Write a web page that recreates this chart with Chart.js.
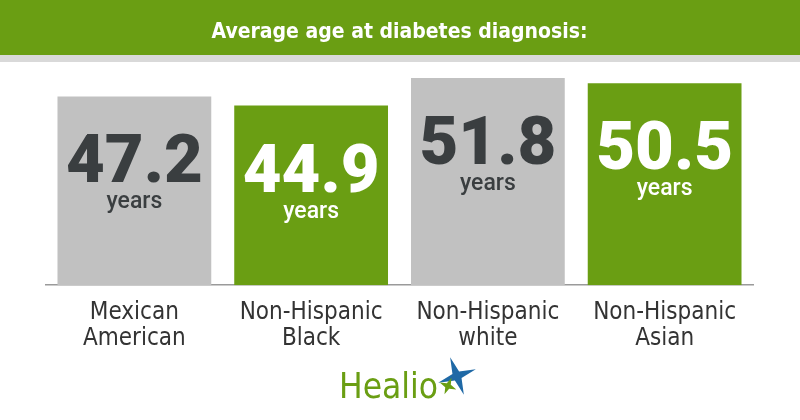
<!DOCTYPE html>
<html>
<head>
<meta charset="utf-8">
<title>Average age at diabetes diagnosis</title>
<script src="https://cdn.jsdelivr.net/npm/chart.js@4.4.1/dist/chart.umd.min.js"></script>
<style>
  html, body { margin: 0; padding: 0; background: #fff; }
  #wrap { width: 800px; height: 420px; position: relative; }
</style>
</head>
<body>
<div id="wrap"><canvas id="ageChart"></canvas></div>
<script>
// data
var groups = [['Mexican', 'American'], ['Non-Hispanic', 'Black'], ['Non-Hispanic', 'white'], ['Non-Hispanic', 'Asian']];
var avgAge = [47.2, 44.9, 51.8, 50.5];
var unitLabel = 'years';
var chartTitle = 'Average age at diabetes diagnosis:';

var green = '#6a9e13';
var grey = '#c1c1c1';
var darkText = '#3a3e40';
var narrow = "'Liberation Sans Narrow', 'DejaVu Sans Condensed', Roboto, sans-serif";

var barColors = [grey, green, grey, green];
var valueColors = [darkText, '#ffffff', darkText, '#ffffff'];

// green header strip behind the title
var headerBand = {
    id: 'headerBand',
    beforeDraw: function (chart) {
        var ctx = chart.ctx;
        ctx.save();
        ctx.fillStyle = green;
        ctx.fillRect(0, 0, chart.width, 55);
        ctx.fillStyle = '#d9d9d9';
        ctx.fillRect(0, 55, chart.width, 7);
        ctx.restore();
    }
};

// big number + "years" inside every bar
var valueLabels = {
    id: 'valueLabels',
    afterDatasetsDraw: function (chart) {
        var ctx = chart.ctx;
        var meta = chart.getDatasetMeta(0);
        ctx.save();
        ctx.textAlign = 'center';
        ctx.textBaseline = 'alphabetic';
        meta.data.forEach(function (bar, i) {
            ctx.fillStyle = valueColors[i];
            ctx.font = '900 67px Roboto, sans-serif';
            ctx.fillText(avgAge[i].toFixed(1), bar.x, bar.y + 86);
            ctx.font = '500 23px Roboto, sans-serif';
            ctx.fillText(unitLabel, bar.x, bar.y + 112);
        });
        ctx.restore();
    }
};

// Healio mark at the bottom
var logo = {
    id: 'logo',
    afterDraw: function (chart) {
        var ctx = chart.ctx;
        ctx.save();
        ctx.fillStyle = green;
        ctx.font = '35px ' + narrow;
        ctx.textAlign = 'left';
        ctx.textBaseline = 'alphabetic';
        ctx.fillText('Healio', 339, 398);

        function star(cx, cy, r, inner, rot, color) {
            ctx.beginPath();
            for (var k = 0; k < 8; k++) {
                var rad = (k % 2 === 0) ? r : inner;
                var a = rot + k * Math.PI / 4;
                var px = cx + Math.cos(a) * rad, py = cy + Math.sin(a) * rad;
                if (k === 0) ctx.moveTo(px, py); else ctx.lineTo(px, py);
            }
            ctx.closePath();
            ctx.fillStyle = color;
            ctx.fill();
        }
        star(457, 376, 20, 5, -0.35, '#1f69a6');
        star(448, 386, 9, 3, 0.4, green);
        ctx.restore();
    }
};

var ageChart = new Chart(document.getElementById('ageChart'), {
    type: 'bar',
    data: {
        labels: groups,
        datasets: [{
            label: 'Average age',
            data: avgAge,
            backgroundColor: barColors,
            borderWidth: 0,
            categoryPercentage: 1,
            barPercentage: 0.87
        }]
    },
    options: {
        responsive: true,
        maintainAspectRatio: false,
        animation: false,
        layout: { padding: { left: 46, right: 47, top: 0, bottom: 54 } },
        plugins: {
            legend: { display: false },
            tooltip: { enabled: false },
            title: {
                display: true,
                text: chartTitle,
                color: '#ffffff',
                font: { family: narrow, size: 21, weight: 'bold' },
                padding: { top: 20, bottom: 32 }
            }
        },
        scales: {
            x: {
                grid: { display: false, drawTicks: false },
                border: { display: true, color: '#9a9a9a', width: 1.5 },
                ticks: {
                    color: '#333333',
                    padding: 14,
                    maxRotation: 0,
                    autoSkip: false,
                    font: { family: narrow, size: 24, lineHeight: 1.1 }
                }
            },
            y: {
                display: false,
                min: 0,
                max: 52
            }
        }
    },
    plugins: [headerBand, valueLabels, logo]
});
</script>
</body>
</html>
